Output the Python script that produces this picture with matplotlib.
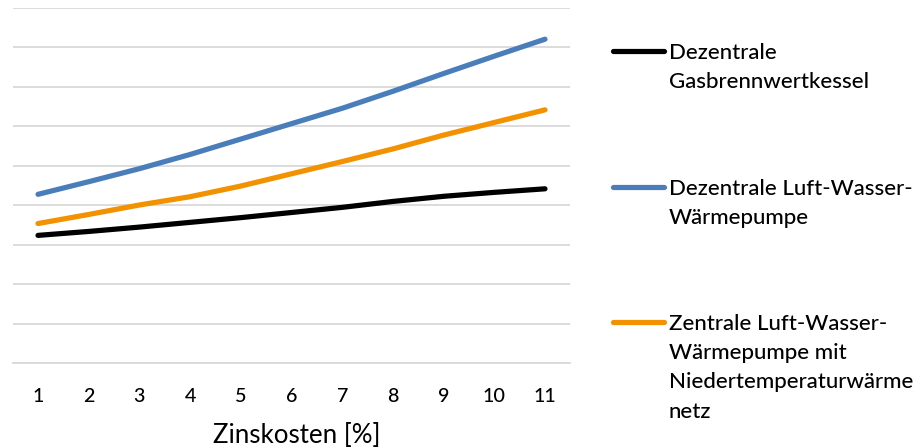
import matplotlib
matplotlib.use('Agg')
import matplotlib.pyplot as plt
from matplotlib.lines import Line2D

plt.rcParams['font.family'] = ['Lato', 'DejaVu Sans']
plt.rcParams['font.weight'] = 'medium'

# Zinskosten in % (Kategorien der x-Achse)
zinskosten = [1, 2, 3, 4, 5, 6, 7, 8, 9, 10, 11]

gas_dezentral = [3.24, 3.34, 3.45, 3.57, 3.69, 3.82, 3.95, 4.10, 4.23, 4.33, 4.42]
wp_dezentral = [4.28, 4.60, 4.93, 5.29, 5.68, 6.07, 6.46, 6.89, 7.34, 7.78, 8.21]
wp_zentral = [3.54, 3.77, 4.01, 4.22, 4.49, 4.80, 5.11, 5.43, 5.78, 6.10, 6.42]

series = [gas_dezentral, wp_dezentral, wp_zentral]
labels = ['Dezentrale\nGasbrennwertkessel',
          'Dezentrale Luft-Wasser-\nWärmepumpe',
          'Zentrale Luft-Wasser-\nWärmepumpe mit\nNiedertemperaturwärme\nnetz']
colors = ['#000000', '#4a7ebb', '#f39200']

W, H = 923, 448
fig = plt.figure(figsize = (W / 100, H / 100), dpi = 100)

# plot area in pixels: left, right, top, bottom
pl, pr, pt, pb = 12.65, 570.35, 8, 363.3
ax = fig.add_axes([pl / W, 1 - pb / H, (pr - pl) / W, (pb - pt) / H])

for y, c in zip(series, colors):
    ax.plot(zinskosten, y, color = c, lw = 3.75, solid_capstyle = 'round', zorder = 3)

ax.set_xlim(0.5, 11.5)
ax.set_ylim(0, 9)
ax.set_xticks(zinskosten)
ax.set_yticks(range(0, 10))
ax.yaxis.grid(True, color = '#d9d9d9', lw = 1.3)
ax.set_axisbelow(True)
for s in ['top', 'right', 'left']:
    ax.spines[s].set_visible(False)
ax.spines['bottom'].set_color('#d9d9d9')
ax.spines['bottom'].set_linewidth(1.3)
ax.tick_params(length = 0, labelleft = False, labelsize = 14.2, pad = 18)

ax.set_xlabel('Zinskosten [%]', fontsize = 18.6, va = 'baseline')
ax.xaxis.set_label_coords((296.5 - pl) / (pr - pl), (pb - 442.5) / (pb - pt))

# legend drawn by hand: handle next to the first line of each label
leg_x0, leg_x1, text_x = 612.5, 663.5, 669
entry_y = [51, 187, 322]
line_step = 29.3
for label, c, y in zip(labels, colors, entry_y):
    fig.add_artist(Line2D([leg_x0 / W, leg_x1 / W], [1 - y / H] * 2,
                          color = c, lw = 3.75, solid_capstyle = 'round'))
    for i, line in enumerate(label.split('\n')):
        fig.text(text_x / W, 1 - (y + 7.7 + i * line_step) / H, line,
                 fontsize = 16.0, va = 'baseline')

fig.savefig('out.png', dpi = 100)
